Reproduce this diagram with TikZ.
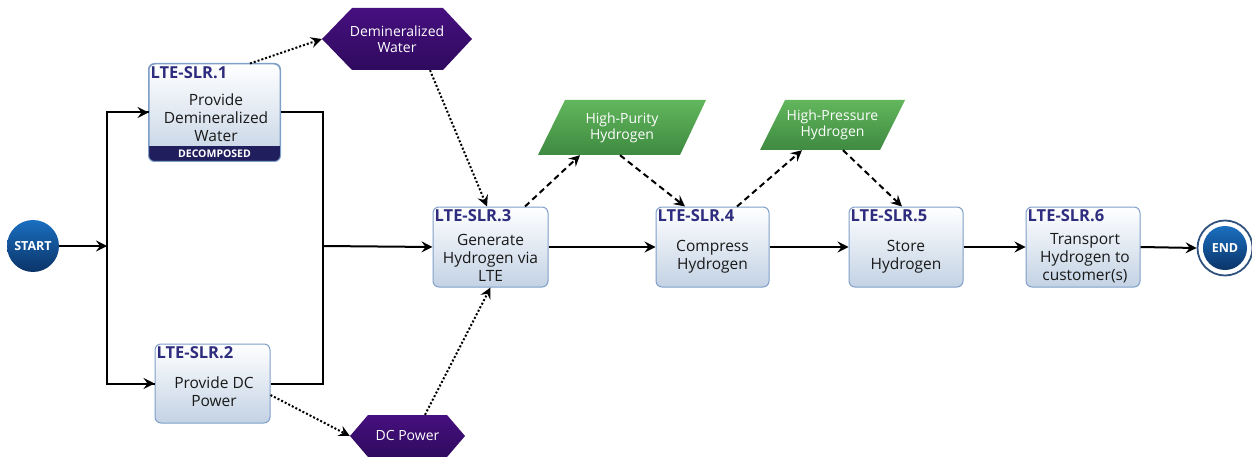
\documentclass[tikz,border=0pt]{standalone}
\usepackage{fontspec}
\setmainfont{Open Sans}
\usetikzlibrary{arrows.meta,calc}
\definecolor{boxborder}{HTML}{7F9FC8}
\definecolor{boxbot}{HTML}{C3D2E4}
\definecolor{titlecol}{HTML}{2E2C7E}
\definecolor{bandcol}{HTML}{211E5E}
\definecolor{purtop}{HTML}{46107F}
\definecolor{purbot}{HTML}{2F0A5E}
\definecolor{grtop}{HTML}{62B65C}
\definecolor{grbot}{HTML}{3E8A41}
\definecolor{bltop}{HTML}{1A6FC0}
\definecolor{blbot}{HTML}{0B3468}
\tikzset{
  pbox/.style={draw=boxborder, line width=1pt, rounded corners=6pt, top color=white, bottom color=boxbot, inner sep=0pt},
  ptitle/.style={anchor=north west, inner sep=0pt, text=titlecol, font=\fontsize{16.5}{18}\selectfont\bfseries},
  pbody/.style={align=center, inner sep=0pt, font=\fontsize{15.5}{18}\selectfont, text=black!90},
  flow/.style={line width=2pt, -{Stealth[length=11pt,width=11pt,inset=4pt]}},
  flowline/.style={line width=2pt},
  dotarr/.style={line width=2pt, dash pattern=on 2pt off 2pt, -{Stealth[length=11pt,width=11pt,inset=4pt]}},
  dasharr/.style={line width=2pt, dash pattern=on 6pt off 4pt, -{Stealth[length=11pt,width=11pt,inset=4pt]}},
  puritem/.style={align=center, inner sep=0pt, text=white, font=\fontsize{14}{16}\selectfont},
  gritem/.style={align=center, inner sep=0pt, text=white, font=\fontsize{14}{16}\selectfont},
}
\begin{document}
\begin{tikzpicture}[x=1pt,y=-1pt]
\useasboundingbox (0,0) rectangle (1252,457);

% terminals
\shade[top color=bltop, bottom color=blbot] (33,246) circle (26);
\node[circle, minimum size=52pt, inner sep=0pt, text=white, font=\fontsize{12.5}{13}\selectfont\bfseries] (start) at (33,246) {START};

\node[circle, minimum size=55pt, inner sep=0pt, draw=blbot!85!white, line width=1.8pt, fill=white] (endring) at (1225,248) {};
\shade[top color=bltop, bottom color=blbot] (1225,248) circle (22);
\node[text=white, font=\fontsize{12.5}{13}\selectfont\bfseries, inner sep=0pt] (endlbl) at (1225,248) {END};

% process boxes
\node[pbox, minimum width=131pt, minimum height=97pt] (b1) at (214.5,112.5) {};
\begin{scope}
  \clip[rounded corners=6pt] (b1.south west) rectangle (b1.north east);
  \fill[bandcol] (b1.south west) rectangle ($(b1.south east)+(0,-15)$);
\end{scope}
\draw[boxborder, line width=1pt, rounded corners=6pt] (b1.south west) rectangle (b1.north east);
\node[text=white, font=\fontsize{10.5}{11}\selectfont\bfseries, inner sep=0pt] (b1band) at ($(b1.south)+(0,-7.5)$) {DECOMPOSED};
\node[ptitle] (b1t) at ($(b1.north west)+(2,3)$) {LTE-SLR.1};
\node[pbody] (b1x) at (216,118) {Provide\\Demineralized\\Water};

\node[pbox, minimum width=115pt, minimum height=79pt] (b2) at (212.5,383.5) {};
\node[ptitle] (b2t) at ($(b2.north west)+(2,3)$) {LTE-SLR.2};
\node[pbody] (b2x) at (214,392) {Provide DC\\Power};

\node[pbox, minimum width=115pt, minimum height=80pt] (b3) at (490.5,247) {};
\node[ptitle] (b3t) at ($(b3.north west)+(2,3)$) {LTE-SLR.3};
\node[pbody] (b3x) at (490.5,258) {Generate\\Hydrogen via\\LTE};

\node[pbox, minimum width=113pt, minimum height=80pt] (b4) at (712.5,247) {};
\node[ptitle] (b4t) at ($(b4.north west)+(2,3)$) {LTE-SLR.4};
\node[pbody] (b4x) at (712.5,257) {Compress\\Hydrogen};

\node[pbox, minimum width=114pt, minimum height=80pt] (b5) at (906,247) {};
\node[ptitle] (b5t) at ($(b5.north west)+(2,3)$) {LTE-SLR.5};
\node[pbody] (b5x) at (906,257) {Store\\Hydrogen};

\node[pbox, minimum width=114pt, minimum height=80pt] (b6) at (1083,247) {};
\node[ptitle] (b6t) at ($(b6.north west)+(2,3)$) {LTE-SLR.6};
\node[pbody] (b6x) at (1085,258) {Transport\\Hydrogen to\\customer(s)};

% hexagons (items)
\shade[top color=purtop, bottom color=purbot] (322,39) -- (352,8) -- (443,8) -- (472,39) -- (443,70) -- (352,70) -- cycle;
\node[minimum width=150pt, minimum height=62pt, inner sep=0pt] (dw) at (397,39) {};
\node[puritem] (dwt) at (397,39) {Demineralized\\Water};

\shade[top color=purtop, bottom color=purbot] (350,436) -- (368,415) -- (447,415) -- (465,436) -- (447,457) -- (368,457) -- cycle;
\node[minimum width=115pt, minimum height=42pt, inner sep=0pt] (dcp) at (407.5,436) {};
\node[puritem] (dcpt) at (407.5,435) {DC Power};

% parallelograms
\shade[top color=grtop, bottom color=grbot] (538,155) -- (565,100) -- (706,100) -- (680,155) -- cycle;
\node[minimum width=168pt, minimum height=55pt, inner sep=0pt] (hp) at (622,127.5) {};
\node[gritem] (hpt) at (622,128) {High-Purity\\Hydrogen};

\shade[top color=grtop, bottom color=grbot] (760,150) -- (785,100) -- (905,100) -- (880,150) -- cycle;
\node[minimum width=145pt, minimum height=50pt, inner sep=0pt] (hpr) at (832.5,125) {};
\node[gritem] (hprt) at (832.5,125) {High-Pressure\\Hydrogen};

% flow connectors
\coordinate (j1) at (107,246);
\coordinate (j2) at (323,246);
\draw[flow] (start.east) -- (j1);
\draw[flowline] (j1) |- (b1.west);
\draw[flowline] (j1) |- (b2.west);
\draw[flow] ($(j1)+(0,-133.5)$) -- (b1.west);
\draw[flow] ($(j1)+(0,137.5)$) -- (b2.west);
\draw[flowline] (b1.east) -| (j2);
\draw[flowline] (b2.east) -| (j2);
\draw[flow] (j2) -- (b3.west);
\draw[flow] (b3.east) -- (b4.west);
\draw[flow] (b4.east) -- (b5.west);
\draw[flow] (b5.east) -- (b6.west);
\draw[flow] (b6.east) -- (endring.west);

% item connectors
\draw[dotarr] ([xshift=35.5pt]b1.north) -- (dw.west);
\draw[dotarr] ([xshift=33pt]dw.south) -- ([xshift=-3.5pt]b3.north);
\draw[dotarr] ([yshift=-11.5pt]b2.east) -- (dcp.west);
\draw[dotarr] ([xshift=17.5pt]dcp.north) -- (b3.south);
\draw[dasharr] ([xshift=34.5pt]b3.north) -- ([xshift=-42pt]hp.south);
\draw[dasharr] ([xshift=-2pt]hp.south) -- ([xshift=-27.5pt]b4.north);
\draw[dasharr] ([xshift=24.5pt]b4.north) -- ([xshift=-30.5pt]hpr.south);
\draw[dasharr] ([xshift=10.5pt]hpr.south) -- ([xshift=-4pt]b5.north);
\end{tikzpicture}
\end{document}
